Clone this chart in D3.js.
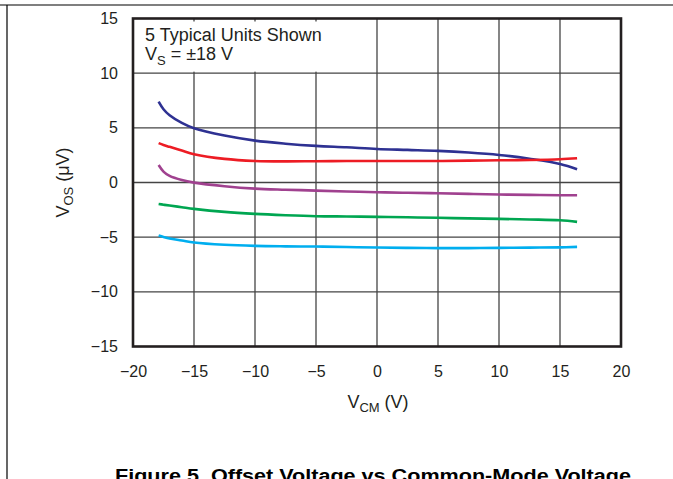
<!DOCTYPE html>
<html><head><meta charset="utf-8">
<script src="https://cdn.jsdelivr.net/npm/d3@7"></script>
<style>
html,body{margin:0;padding:0;background:#fff;}
svg{display:block;font-family:"Liberation Sans",Arial,sans-serif;}
</style></head>
<body>
<svg id="chart" width="673" height="479"></svg>
<script>
const vcm = [-17.9, -17.5, -17, -16, -15, -12.5, -10, -7.5, -5, -2.5, 0, 2.5, 5, 7.5, 10, 12.5, 15, 16.4];
const unit1 = [7.4, 6.7, 6.15, 5.45, 4.96, 4.29, 3.83, 3.55, 3.35, 3.22, 3.07, 2.98, 2.89, 2.74, 2.52, 2.17, 1.70, 1.22];
const unit2 = [3.6, 3.43, 3.26, 2.92, 2.59, 2.16, 1.97, 1.93, 1.95, 1.96, 1.97, 1.97, 1.97, 2.0, 2.03, 2.06, 2.13, 2.22];
const unit3 = [1.6, 1.0, 0.6, 0.22, -0.01, -0.34, -0.56, -0.66, -0.74, -0.82, -0.89, -0.94, -0.98, -1.04, -1.1, -1.13, -1.16, -1.16];
const unit4 = [-1.96, -2.03, -2.11, -2.26, -2.41, -2.69, -2.87, -2.99, -3.08, -3.11, -3.14, -3.18, -3.23, -3.28, -3.33, -3.38, -3.45, -3.60];
const unit5 = [-4.85, -4.98, -5.12, -5.3, -5.49, -5.7, -5.80, -5.84, -5.86, -5.9, -5.95, -5.98, -6.0, -6.0, -5.98, -5.96, -5.93, -5.89];
const seriesColors = ["#2e3192", "#ed1c24", "#a0418f", "#00a651", "#00aeef"];
const xTicks = [-20, -15, -10, -5, 0, 5, 10, 15, 20];
const yTicks = [-15, -10, -5, 0, 5, 10, 15];

const svg = d3.select("#chart");
const L = 133, R = 621, T = 18.5, B = 346.5;
const x = d3.scaleLinear().domain([-20, 20]).range([L, R]);
const y = d3.scaleLinear().domain([-15, 15]).range([B, T]);

// page frame lines
svg.append("line").attr("x1", 0).attr("x2", 673).attr("y1", 5).attr("y2", 5).attr("stroke", "#000").attr("stroke-width", 1.2);
svg.append("line").attr("x1", 7).attr("x2", 7).attr("y1", 5).attr("y2", 479).attr("stroke", "#000").attr("stroke-width", 1.2);

// grid
svg.append("g").selectAll("line").data(xTicks.slice(1, -1)).join("line")
  .attr("x1", d => x(d)).attr("x2", d => x(d)).attr("y1", T).attr("y2", B)
  .attr("stroke", "#444").attr("stroke-width", 1.3);
svg.append("g").selectAll("line").data(yTicks.slice(1, -1)).join("line")
  .attr("y1", d => y(d)).attr("y2", d => y(d)).attr("x1", L).attr("x2", R)
  .attr("stroke", "#444").attr("stroke-width", 1.3);

// white annotation box
svg.append("rect").attr("x", L).attr("y", T + 3).attr("width", x(0) - L - 1.5).attr("height", y(10) - T - 4.5)
  .attr("fill", "#fff");

// axes labels via d3 axes
const fmt = d3.format("d");
const xAxis = svg.append("g").attr("transform", `translate(0,${B})`)
  .call(d3.axisBottom(x).tickValues(xTicks).tickFormat(fmt).tickSize(0).tickPadding(19));
const yAxis = svg.append("g").attr("transform", `translate(${L},0)`)
  .call(d3.axisLeft(y).tickValues(yTicks).tickFormat(fmt).tickSize(0).tickPadding(15));
[xAxis, yAxis].forEach(a => {
  a.select(".domain").remove();
  a.selectAll("text").attr("font-size", 16).attr("fill", "#231f20")
    .attr("font-family", "'Liberation Sans', Arial, sans-serif");
});

// curves
const line = d3.line().x((d, i) => x(vcm[i])).y(d => y(d)).curve(d3.curveCatmullRom.alpha(0.5));
[unit1, unit2, unit3, unit4, unit5].forEach((s, k) => {
  svg.append("path").attr("d", line(s)).attr("fill", "none")
    .attr("stroke", seriesColors[k]).attr("stroke-width", 2.6).attr("stroke-linecap", "butt");
});

// plot frame
svg.append("rect").attr("x", L).attr("y", T).attr("width", R - L).attr("height", B - T)
  .attr("fill", "none").attr("stroke", "#231f20").attr("stroke-width", 2.6);

// annotation
const ann = svg.append("g").attr("font-size", 18).attr("fill", "#231f20");
ann.append("text").attr("x", 145).attr("y", 41).text("5 Typical Units Shown");
const t2 = ann.append("text").attr("x", 145).attr("y", 60);
t2.append("tspan").text("V");
t2.append("tspan").attr("font-size", 13).attr("dy", 5).text("S");
t2.append("tspan").attr("dy", -5).text(" = ±18 V");

// axis titles
const xt = svg.append("text").attr("x", 378).attr("y", 408).attr("text-anchor", "middle")
  .attr("font-size", 18).attr("fill", "#231f20");
xt.append("tspan").text("V");
xt.append("tspan").attr("font-size", 13).attr("dy", 4).text("CM");
xt.append("tspan").attr("dy", -4).text(" (V)");

const yt = svg.append("text").attr("transform", "translate(69,182.5) rotate(-90)").attr("text-anchor", "middle")
  .attr("font-size", 18).attr("fill", "#231f20");
yt.append("tspan").text("V");
yt.append("tspan").attr("font-size", 13).attr("dy", 4).text("OS");
yt.append("tspan").attr("dy", -4).text(" (μV)");

// caption
svg.append("text").attr("x", 115).attr("y", 482).attr("font-size", 18).attr("font-weight", "bold")
  .attr("fill", "#000").attr("textLength", 516).attr("lengthAdjust", "spacingAndGlyphs")
  .text("Figure 5. Offset Voltage vs Common-Mode Voltage");
</script>
</body></html>
